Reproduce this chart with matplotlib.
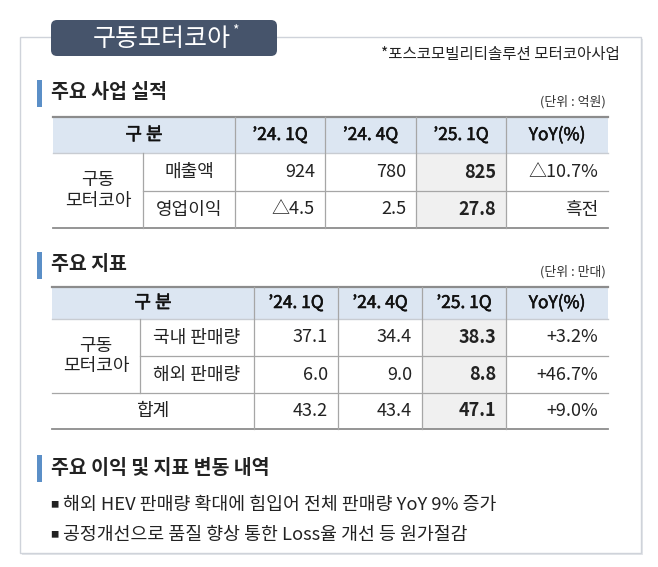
import matplotlib
matplotlib.use("Agg")
import matplotlib.pyplot as plt
import matplotlib.patheffects as pe
from matplotlib.patches import Rectangle, FancyBboxPatch

plt.rcParams['font.family'] = ['Noto Sans CJK KR', 'DejaVu Sans']

# ---- data ----
title = "구동모터코아"
note = "*포스코모빌리티솔루션 모터코아사업"
quarters = ["’24. 1Q", "’24. 4Q", "’25. 1Q"]
group_label = "구동\n모터코아"

perf_items = ["매출액", "영업이익"]
perf_unit = "(단위 : 억원)"
sales = [924, 780, 825]
sales_yoy = -10.7
op_profit = [-4.5, 2.5, 27.8]
op_yoy = "흑전"

ind_items = ["국내 판매량", "해외 판매량"]
ind_unit = "(단위 : 만대)"
domestic = [37.1, 34.4, 38.3]
domestic_yoy = 3.2
overseas = [6.0, 9.0, 8.8]
overseas_yoy = 46.7
total = [43.2, 43.4, 47.1]
total_yoy = 9.0

notes = ["해외 HEV 판매량 확대에 힘입어 전체 판매량 YoY 9% 증가",
         "공정개선으로 품질 향상 통한 Loss율 개선 등 원가절감"]


def fmt_num(v, dec=1):
    s = f"{abs(v):.{dec}f}"
    return ("△" + s) if v < 0 else s


def fmt_yoy(v):
    return ("△%.1f%%" % abs(v)) if v < 0 else ("+%.1f%%" % v)


# ---- figure ----
fig = plt.figure(figsize=(6.58, 5.67), dpi=100)
ax = fig.add_axes([0, 0, 1, 1])
ax.set_xlim(0, 658)
ax.set_ylim(567, 0)
ax.axis('off')

TXT = "#222222"
HEAD_BG = "#dce6f2"
SHADE = "#f0f0f0"
LINE = "#a6a6a6"
FS = 13
semi = [pe.withStroke(linewidth=0.4, foreground="#111111")]

# outer box with soft shadow
ax.add_patch(Rectangle((22, 39), 621, 516, fc="#e4e6ea", ec="none", zorder=0))
ax.add_patch(Rectangle((20, 37), 621, 516, fc="white", ec="#cfd3da", lw=1, zorder=1))

# title tab
ax.add_patch(FancyBboxPatch((51, 20), 226, 36, boxstyle="round,pad=0,rounding_size=6",
                            fc="#46546b", ec="none", zorder=3))
ax.text(162, 39, title, color="white", fontsize=18, ha="center", va="center", zorder=4)
ax.text(232, 30, "*", color="white", fontsize=10, ha="left", va="center", zorder=4)
ax.text(620, 55, note, color=TXT, fontsize=11.2, ha="right", va="center", zorder=4)


def heading(y, text):
    ax.add_patch(Rectangle((37, y - 13), 5, 27, fc="#5b8fc7", ec="none", zorder=3))
    ax.text(51, y, text, color=TXT, fontsize=14, fontweight="bold",
            ha="left", va="center", zorder=4)


def draw_table(cols, rows_y, body, merged_rows):
    # header
    left, right = cols[0], cols[-1]
    y0, y1 = rows_y[0], rows_y[1]
    ax.add_patch(Rectangle((left, y0), right - left, y1 - y0, fc=HEAD_BG, ec="none", zorder=2))
    # shaded '25.1Q column body
    ax.add_patch(Rectangle((cols[4], y1), cols[5] - cols[4], rows_y[-1] - y1,
                           fc=SHADE, ec="none", zorder=2))
    ax.text((cols[0] + cols[2]) / 2, (y0 + y1) / 2, "구 분", fontsize=13,
            color="#111111", ha="center", va="center", zorder=4, path_effects=semi)
    for i, q in enumerate(quarters + ["YoY(%)"]):
        ax.text((cols[2 + i] + cols[3 + i]) / 2, (y0 + y1) / 2, q, fontsize=12.5,
                color="#111111", ha="center", va="center", zorder=4, path_effects=semi)
    # horizontal lines
    ax.plot([left, right], [y0, y0], color="#8c8c8c", lw=1.6, zorder=5)
    ax.plot([left, right], [y1, y1], color="#c8ccd2", lw=1.0, zorder=5)
    ax.plot([left, right], [rows_y[-1], rows_y[-1]], color="#8c8c8c", lw=1.3, zorder=5)
    for k in range(2, len(rows_y) - 1):
        x_start = cols[1] if k < merged_rows + 1 else left
        ax.plot([x_start, right], [rows_y[k], rows_y[k]], color=LINE, lw=0.9, zorder=5)
    # vertical lines
    for c in cols[2:-1]:
        ax.plot([c, c], [y0, rows_y[-1]], color=LINE, lw=0.9, zorder=5)
    ax.plot([cols[1], cols[1]], [y1, rows_y[merged_rows + 1]], color=LINE, lw=0.9, zorder=5)
    # merged group label
    ax.text((cols[0] + cols[1]) / 2, (y1 + rows_y[merged_rows + 1]) / 2, group_label,
            fontsize=FS, color=TXT, ha="center", va="center", linespacing=1.15, zorder=4)
    # body rows
    for r, (label, vals, yoy) in enumerate(body):
        yc = (rows_y[r + 1] + rows_y[r + 2]) / 2
        if r < merged_rows:
            ax.text((cols[1] + cols[2]) / 2, yc, label, fontsize=FS, color=TXT,
                    ha="center", va="center", zorder=4)
        else:
            ax.text((cols[0] + cols[2]) / 2, yc, label, fontsize=FS, color=TXT,
                    ha="center", va="center", zorder=4)
        for i, v in enumerate(vals):
            ax.text(cols[3 + i] - 10, yc, v, fontsize=FS, color=TXT,
                    fontweight="bold" if i == 2 else "normal",
                    ha="right", va="center", zorder=4)
        ax.text(cols[6] - 10, yc, yoy, fontsize=FS, color=TXT, ha="right", va="center", zorder=4)


# section 1
heading(93, "주요 사업 실적")
ax.text(606, 102, perf_unit, fontsize=9.3, color="#333333", ha="right", va="center", zorder=4)
body1 = [
    (perf_items[0], [f"{v:,}" for v in sales], fmt_yoy(sales_yoy)),
    (perf_items[1], [fmt_num(v) for v in op_profit], op_yoy),
]
draw_table([53, 143, 235, 325, 416, 506, 608], [117, 153, 191, 228], body1, merged_rows=2)

# section 2
heading(265, "주요 지표")
ax.text(606, 272, ind_unit, fontsize=9.3, color="#333333", ha="right", va="center", zorder=4)
body2 = [
    (ind_items[0], [fmt_num(v) for v in domestic], fmt_yoy(domestic_yoy)),
    (ind_items[1], [fmt_num(v) for v in overseas], fmt_yoy(overseas_yoy)),
    ("합계", [fmt_num(v) for v in total], fmt_yoy(total_yoy)),
]
draw_table([52, 140, 254, 338, 422, 506, 608], [287, 319, 356, 393, 429], body2, merged_rows=2)

# section 3
heading(468, "주요 이익 및 지표 변동 내역")
for i, line in enumerate(notes):
    y = 505 + 30 * i
    ax.text(50, y, "■", fontsize=6, color=TXT, ha="left", va="center", zorder=4)
    ax.text(63, y, line, fontsize=13.2, color=TXT, ha="left", va="center", zorder=4)

fig.savefig("out.png", dpi=100, facecolor="white")
